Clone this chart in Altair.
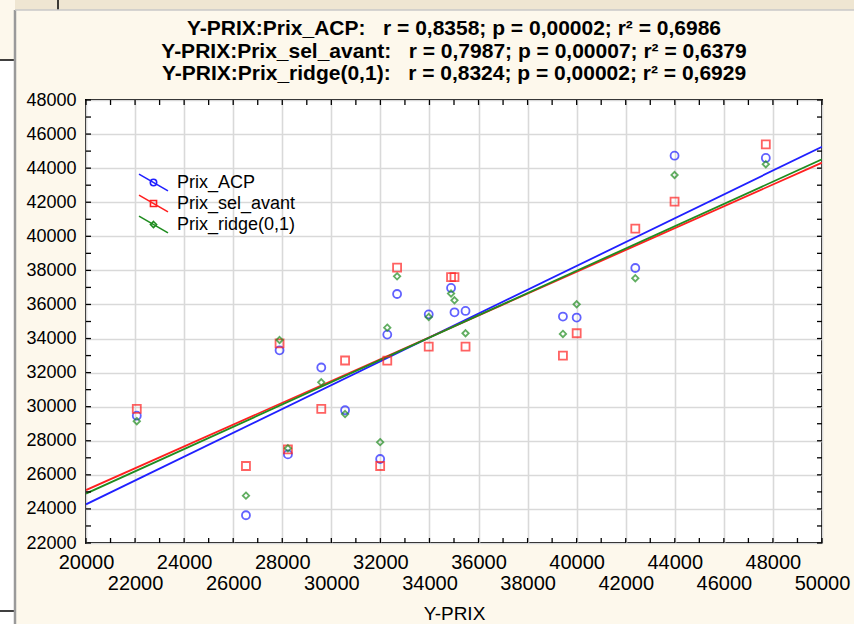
import altair as alt
import pandas as pd

# ---- data ----
y_prix = [22070, 26520, 27890, 28230, 29590, 30560, 31990, 32280, 32680, 33970,
          34880, 35020, 35470, 39440, 40000, 42390, 43990, 47710]
prix_acp = [29470, 23630, 33310, 27200, 32300, 29790, 26930, 34230, 36615, 35420,
            36970, 35540, 35620, 35290, 35230, 38140, 44730, 44600]
prix_sel_avant = [29870, 26520, 33720, 27500, 29870, 32710, 26520, 32700, 38160, 33530,
                  37600, 37600, 33530, 33000, 34310, 40450, 42030, 45400]
prix_ridge = [29150, 24780, 33915, 27560, 31430, 29570, 27920, 34640, 37650, 35265,
              36640, 36245, 34310, 34270, 36010, 37540, 43600, 44230]

series_names = ["Prix_ACP", "Prix_sel_avant", "Prix_ridge(0,1)"]
series_colors = ["#2020ff", "#ff2020", "#1f8c1f"]
NB = "\u00a0"
title_lines = [
    "Y-PRIX:Prix_ACP:" + NB * 3 + "r = 0,8358; p = 0,00002; r\u00b2 = 0,6986",
    "Y-PRIX:Prix_sel_avant:" + NB * 3 + "r = 0,7987; p = 0,00007; r\u00b2 = 0,6379",
    "Y-PRIX:Prix_ridge(0,1):" + NB * 3 + "r = 0,8324; p = 0,00002; r\u00b2 = 0,6929",
]
x_ticks = list(range(20000, 50001, 2000))
y_ticks = list(range(22000, 48001, 2000))
x_minor = list(range(20000, 50001, 1000))
y_minor = list(range(22000, 48001, 1000))
x_title = "Y-PRIX"

rows = []
for name, vals in zip(series_names, [prix_acp, prix_sel_avant, prix_ridge]):
    for xv, yv in zip(y_prix, vals):
        rows.append({"x": xv, "y": yv, "series": name})
df = pd.DataFrame(rows)

FONT = "Liberation Sans, Arial, sans-serif"

W, H = 736, 443

xscale = alt.Scale(domain=[20000, 50000], nice=False, zero=False)
yscale = alt.Scale(domain=[22000, 48000], nice=False, zero=False)
cscale = alt.Scale(domain=series_names, range=series_colors)

point_shapes = ["circle", "square", "M0,-0.8L0.8,0L0,0.8L-0.8,0Z"]
legend_shapes = [
    "M-1,-0.58L1,0.58M0.22,0A0.22,0.22,0,1,1,-0.22,0A0.22,0.22,0,1,1,0.22,0",
    "M-1,-0.58L1,0.58M-0.21,-0.21L0.21,-0.21L0.21,0.21L-0.21,0.21Z",
    "M-1,-0.58L1,0.58M0,-0.21L0.21,0L0,0.21L-0.21,0Z",
]

x_axis = alt.Axis(
    values=x_ticks, format="d", title=x_title, titleFont=FONT, titleFontSize=19,
    titleFontWeight="normal", titleColor="black", titlePadding=11,
    labelFont=FONT, labelFontSize=20, labelColor="black", labelFlush=False,
    labelOverlap=False,
    labelPadding={"condition": {"test": "datum.value % 4000 == 0", "value": 9}, "value": 30},
    ticks=False, domain=False, grid=True, gridColor="#d9d9d9", gridWidth=1.6,
)
y_axis = alt.Axis(
    values=y_ticks, format="d", title=None,
    labelFont=FONT, labelFontSize=18, labelColor="black", labelPadding=10,
    labelOverlap=False,
    ticks=False, domain=False, grid=True, gridColor="#d9d9d9", gridWidth=1.6,
)

legend = alt.Legend(
    title=None, orient="none", legendX=52, legendY=72, padding=0,
    symbolSize=841, symbolStrokeWidth=1.6, symbolOffset=0, symbolOpacity=1,
    symbolFillColor="transparent", symbolType="M-1,-0.58L1,0.58",
    labelFont=FONT, labelFontSize=18, labelColor="black", labelOffset=8,
    clipHeight=21, rowPadding=0,
)

X = alt.X("x:Q", scale=xscale, axis=x_axis)
Y = alt.Y("y:Q", scale=yscale, axis=y_axis)
C = alt.Color("series:N", scale=cscale, legend=legend)

base = alt.Chart(df)

lines = base.transform_regression(
    "x", "y", groupby=["series"], extent=[20000, 50000]
).mark_line(strokeWidth=1.8, clip=True).encode(x=X, y=Y, color=C)

point_layers = [
    base.transform_filter(alt.datum.series == name)
    .mark_point(filled=False, strokeWidth=1.8, size=64, shape=shp)
    .encode(x=X, y=Y, color=C)
    for name, shp in zip(series_names, point_shapes)
]

legend_layer = base.mark_point(filled=False, strokeWidth=1.6, opacity=0).encode(
    x=X, y=Y, color=C,
    shape=alt.Shape("series:N", scale=alt.Scale(domain=series_names, range=legend_shapes),
                    legend=legend),
)

# inward minor ticks on the four sides of the frame
xt = alt.Chart(pd.DataFrame({"t": x_minor}))
yt = alt.Chart(pd.DataFrame({"t": y_minor}))
tick_style = dict(color="black", strokeWidth=1.3)
TX = alt.X("t:Q", scale=xscale, axis=x_axis)
TY = alt.Y("t:Q", scale=yscale, axis=y_axis)
ticks_bottom = xt.mark_rule(**tick_style).encode(x=TX, y=alt.value(H), y2=alt.value(H - 5))
ticks_top = xt.mark_rule(**tick_style).encode(x=TX, y=alt.value(0), y2=alt.value(5))
ticks_left = yt.mark_rule(**tick_style).encode(y=TY, x=alt.value(0), x2=alt.value(5))
ticks_right = yt.mark_rule(**tick_style).encode(y=TY, x=alt.value(W), x2=alt.value(W - 5))

# screenshot surroundings (window edge, strip on the left, top band)
deco = alt.Chart(pd.DataFrame({"k": [0]}))
left_strip = deco.mark_rect(color="white").encode(
    x=alt.value(-86), x2=alt.value(-71), y=alt.value(-40), y2=alt.value(524))
top_band = deco.mark_rect(color="#efe6d2").encode(
    x=alt.value(-71), x2=alt.value(768), y=alt.value(-100), y2=alt.value(-90))
strip_line1 = deco.mark_rule(color="black", strokeWidth=1.5).encode(
    x=alt.value(-86), x2=alt.value(-71), y=alt.value(-40))
strip_line2 = deco.mark_rule(color="black", strokeWidth=1.5).encode(
    x=alt.value(-86), x2=alt.value(-71), y=alt.value(511))
top_line = deco.mark_rule(color="black", strokeWidth=1.5).encode(
    x=alt.value(-28), y=alt.value(-100), y2=alt.value(-90))
win_left = deco.mark_rule(color="#9a9a9a", strokeWidth=2.5).encode(
    x=alt.value(-71), y=alt.value(-90), y2=alt.value(524))
win_top = deco.mark_rule(color="#c8c8c8", strokeWidth=1.5).encode(
    x=alt.value(-71), x2=alt.value(768), y=alt.value(-90))

chart = alt.layer(
    lines, *point_layers, legend_layer,
    ticks_bottom, ticks_top, ticks_left, ticks_right,
    left_strip, top_band, strip_line1, strip_line2, top_line, win_left, win_top,
).properties(
    width=W, height=H,
    title=alt.TitleParams(
        text=title_lines, font=FONT, fontSize=21, fontWeight="bold", color="black",
        anchor="middle", lineHeight=22.5, offset=-106, baseline="bottom",
    ),
    autosize=alt.AutoSizeParams(type="none"),
    padding={"left": 86, "top": 100, "right": 32, "bottom": 81},
    background="#fdf8ec",
).configure_view(
    stroke="black", strokeWidth=2, fill="white"
)

chart.save("out.html", embed_options={"renderer": "svg", "actions": False})
